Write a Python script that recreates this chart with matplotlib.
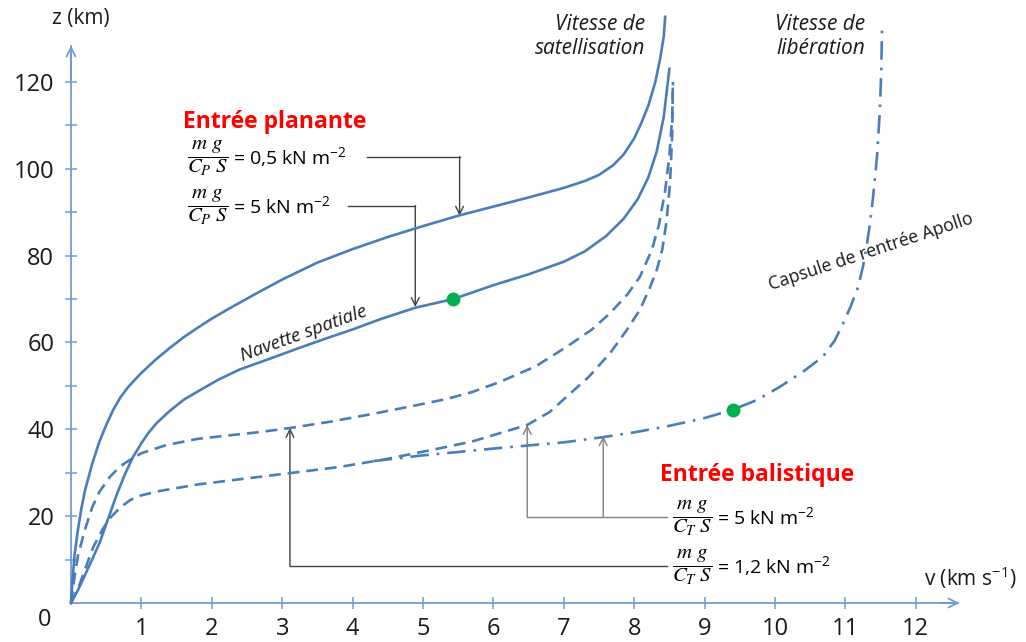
import matplotlib
matplotlib.use("Agg")
import matplotlib.pyplot as plt

plt.rcParams['font.family'] = ['Open Sans', 'DejaVu Sans']
plt.rcParams['mathtext.fontset'] = 'stix'

# ---------------- data (v in km/s, z in km) ----------------
v_plan_05 = [0, 0.02, 0.05, 0.1, 0.15, 0.2, 0.3, 0.4, 0.5, 0.6, 0.7, 0.8, 0.9, 1.0, 1.2, 1.4,
             1.6, 1.8, 2.0, 2.3, 2.6, 3.0, 3.5, 4.0, 4.5, 5.0, 5.5, 6.0, 6.5, 7.0, 7.3, 7.5,
             7.7, 7.85, 8.0, 8.1, 8.2, 8.3, 8.37, 8.42, 8.44]
z_plan_05 = [0, 5, 11, 17, 22, 26, 32, 37, 41, 44.5, 47.3, 49.5, 51.3, 53, 56, 58.7,
             61.2, 63.4, 65.5, 68.3, 71, 74.5, 78.4, 81.5, 84.3, 86.8, 89.2, 91.3, 93.4, 95.6, 97.2, 98.6,
             100.8, 103.3, 107, 110.5, 114.5, 120, 125.5, 130.5, 135]

v_plan_5 = [0, 0.1, 0.2, 0.3, 0.41, 0.53, 0.65, 0.77, 0.88, 1.0, 1.1, 1.22, 1.4, 1.6, 1.83,
            2.1, 2.4, 2.78, 3.2, 3.6, 4.0, 4.4, 4.89, 5.43, 6.0, 6.5, 7.0, 7.3, 7.6, 7.85,
            8.05, 8.2, 8.32, 8.42, 8.5]
z_plan_5 = [0, 3, 6.5, 10, 14, 19.5, 25, 29.8, 33.6, 36.8, 39.2, 41.5, 44.2, 46.8, 49,
            51.5, 53.8, 56, 58.5, 60.8, 63, 65.4, 68, 70, 73.2, 75.7, 78.6, 81, 84.5, 88.5,
            93, 98, 104, 112, 123]

v_bal_12 = [0, 0.05, 0.1, 0.2, 0.3, 0.4, 0.55, 0.7, 0.84, 1.0, 1.36, 1.8, 2.3, 2.7, 3.11,
            3.7, 4.3, 4.8, 5.34, 5.7, 6.09, 6.6, 7.04, 7.4, 7.66, 7.9, 8.08, 8.25, 8.35,
            8.44, 8.5, 8.54, 8.55]
z_bal_12 = [0, 6, 11, 17, 22, 25.5, 29, 31.5, 33, 34.5, 36.4, 37.8, 38.7, 39.4, 40.3,
            41.8, 43.6, 45.2, 47, 48.6, 50.9, 54.5, 59, 63, 66.8, 71, 75.1, 81.3, 87,
            95, 103, 112, 120]

v_bal_5 = [0, 0.13, 0.25, 0.32, 0.45, 0.55, 0.7, 0.84, 1.0, 1.26, 1.8, 2.3, 3.1, 3.8, 4.43,
           5.2, 5.7, 6.09, 6.48, 6.8, 7.04, 7.35, 7.66, 7.9, 8.08, 8.22, 8.32, 8.4, 8.46,
           8.51, 8.54, 8.55]
z_bal_5 = [0, 4.6, 10, 13, 17, 19.5, 22, 23.7, 24.8, 25.8, 27.3, 28.3, 29.9, 31.3, 33,
           35.5, 37.2, 39.1, 41, 44, 47.5, 52, 57.6, 63, 67.5, 72.5, 76.7, 81.5, 88,
           97, 108, 120]

v_apollo = [4.3, 5, 6.09, 7, 7.56, 8, 8.5, 9, 9.4, 9.75, 10.07, 10.4, 10.68, 10.85, 10.97,
            11.08, 11.18, 11.25, 11.3, 11.35, 11.39, 11.45, 11.49, 11.51, 11.52]
z_apollo = [32.7, 34, 35.7, 37, 38.2, 39.3, 40.8, 42.6, 44.5, 46.8, 49.8, 53.3, 56.7, 60.5, 64.5,
            68.5, 72.8, 77.5, 82, 87.5, 93, 103, 113.6, 123, 132.7]

v_dots = [5.43, 9.4]
z_dots = [70, 44.5]

x_ticks = [1, 2, 3, 4, 5, 6, 7, 8, 9, 10, 11, 12]
y_major = [20, 40, 60, 80, 100, 120]
y_minor = [10, 30, 50, 70, 90, 110]

# ---------------- figure ----------------
W, H, DPI = 1026, 642, 100
fig = plt.figure(figsize=(W / DPI, H / DPI), dpi=DPI)
ax = fig.add_axes([0, 0, 1, 1])
px_v = 70.4   # pixels per km/s
px_z = 4.342  # pixels per km
x0, y0 = 71, 603
ax.set_xlim(-x0 / px_v, (W - x0) / px_v)
ax.set_ylim((y0 - H) / px_z, y0 / px_z)

curve_c = '#4a7ebb'
axis_c = '#6f9bd8'
lw = 1.9

ax.plot(v_plan_05, z_plan_05, color=curve_c, lw=lw, solid_joinstyle='round', zorder=3)
ax.plot(v_plan_5, z_plan_5, color=curve_c, lw=lw, solid_joinstyle='round', zorder=3)
ax.plot(v_bal_12, z_bal_12, color=curve_c, lw=lw, ls=(0, (4.5, 2.6)), zorder=3)
ax.plot(v_bal_5, z_bal_5, color=curve_c, lw=lw, ls=(0, (4.5, 2.6)), zorder=3)
ax.plot(v_apollo, z_apollo, color=curve_c, lw=lw, ls=(0, (7, 3, 1, 3)), zorder=3)
ax.plot(v_dots, z_dots, 'o', color='#00b050', ms=10, mec='none', zorder=5)

# axes through the origin
for s in ['top', 'right']:
    ax.spines[s].set_visible(False)
ax.spines['left'].set_position(('data', 0))
ax.spines['bottom'].set_position(('data', 0))
ax.spines['left'].set_bounds(0, 128.3)
ax.spines['bottom'].set_bounds(0, 12.6)
for s in ['left', 'bottom']:
    ax.spines[s].set_color(axis_c)
    ax.spines[s].set_linewidth(1.3)
ax.annotate('', xy=(12.66, 0), xytext=(12.3, 0),
            arrowprops=dict(arrowstyle='->', color=axis_c, lw=1.3, mutation_scale=16))
ax.annotate('', xy=(0, 129.0), xytext=(0, 120),
            arrowprops=dict(arrowstyle='->', color=axis_c, lw=1.3, mutation_scale=16))

ax.set_xticks(x_ticks)
ax.set_xticklabels([str(t) for t in x_ticks])
ax.set_yticks(y_major)
ax.set_yticklabels([str(t) for t in y_major])
ax.set_yticks(y_minor, minor=True)
ax.tick_params(axis='both', which='both', direction='inout', length=8, width=1.1,
               color=axis_c, labelsize=17, labelcolor='#1a1a1a')
ax.tick_params(axis='y', pad=8)
ax.tick_params(axis='x', pad=6)

tx = dict(color='#1a1a1a')
ax.text(-0.37, -3.9, '0', ha='center', va='center', fontsize=17, **tx)
ax.text(0.14, 134.7, 'z (km)', ha='center', va='center', fontsize=15, **tx)
ax.text(12.77, 5.8, r'v (km s$\mathregular{^{-1}}$)', ha='center', va='center', fontsize=15, **tx)

# titles
ax.text(1.59, 110.8, 'Entrée planante', color='red', fontweight='bold', fontsize=16.5,
        ha='left', va='center')
ax.text(8.37, 29.5, 'Entrée balistique', color='red', fontweight='bold', fontsize=16.5,
        ha='left', va='center')

frac_p = r'$\dfrac{m\ g}{C_P\ S}$'
frac_t = r'$\dfrac{m\ g}{C_T\ S}$'
labels = [
    (2.24, 102.7, frac_p, r'= 0,5 kN m$\mathregular{^{-2}}$'),
    (2.24, 91.4, frac_p, r'= 5 kN m$\mathregular{^{-2}}$'),
    (9.12, 19.8, frac_t, r'= 5 kN m$\mathregular{^{-2}}$'),
    (9.12, 8.5, frac_t, r'= 1,2 kN m$\mathregular{^{-2}}$'),
]
for xv, zv, fr, rest in labels:
    ax.text(xv, zv - 0.4, fr, ha='right', va='center', fontsize=15, color='black')
    ax.text(xv + 0.06, zv, rest, ha='left', va='center', fontsize=14, color='black')

ax.text(8.15, 130.4, 'Vitesse de\nsatellisation', ha='right', va='center', fontsize=15,
        style='italic', linespacing=1.2, **tx)
ax.text(11.28, 130.4, 'Vitesse de\nlibération', ha='right', va='center', fontsize=15,
        style='italic', linespacing=1.2, **tx)

ax.text(3.30, 62.0, 'Navette spatiale', rotation=20, ha='center', va='center',
        rotation_mode='anchor', fontsize=13.5, style='italic', **tx)
ax.text(11.36, 80.8, 'Capsule de rentrée Apollo', rotation=18.3, ha='center', va='center',
        rotation_mode='anchor', fontsize=12.8, **tx)

# leader lines: (x_start, x_end, y_line)
h_lines = [
    (4.21, 5.52, 102.8, '#404040'),
    (3.93, 4.89, 91.5, '#404040'),
    (3.11, 8.47, 8.5, '#404040'),
    (6.48, 8.47, 19.8, '#808080'),
]
for xs, xe, yl, c in h_lines:
    ax.plot([xs, xe], [yl, yl], color=c, lw=1.0, zorder=2)

# arrows: (x, y_from, y_to)
arrows = [
    (5.52, 102.8, 89.2, '#404040'),
    (4.89, 91.5, 68.2, '#404040'),
    (3.11, 8.5, 40.3, '#404040'),
    (6.48, 19.8, 41.0, '#808080'),
    (7.56, 19.8, 38.4, '#808080'),
]
for x, yf, yt, c in arrows:
    ax.annotate('', xy=(x, yt), xytext=(x, yf),
                arrowprops=dict(arrowstyle='->', color=c, lw=1.0, mutation_scale=14,
                                shrinkA=0, shrinkB=0), zorder=2)

fig.savefig('out.png', dpi=DPI)
